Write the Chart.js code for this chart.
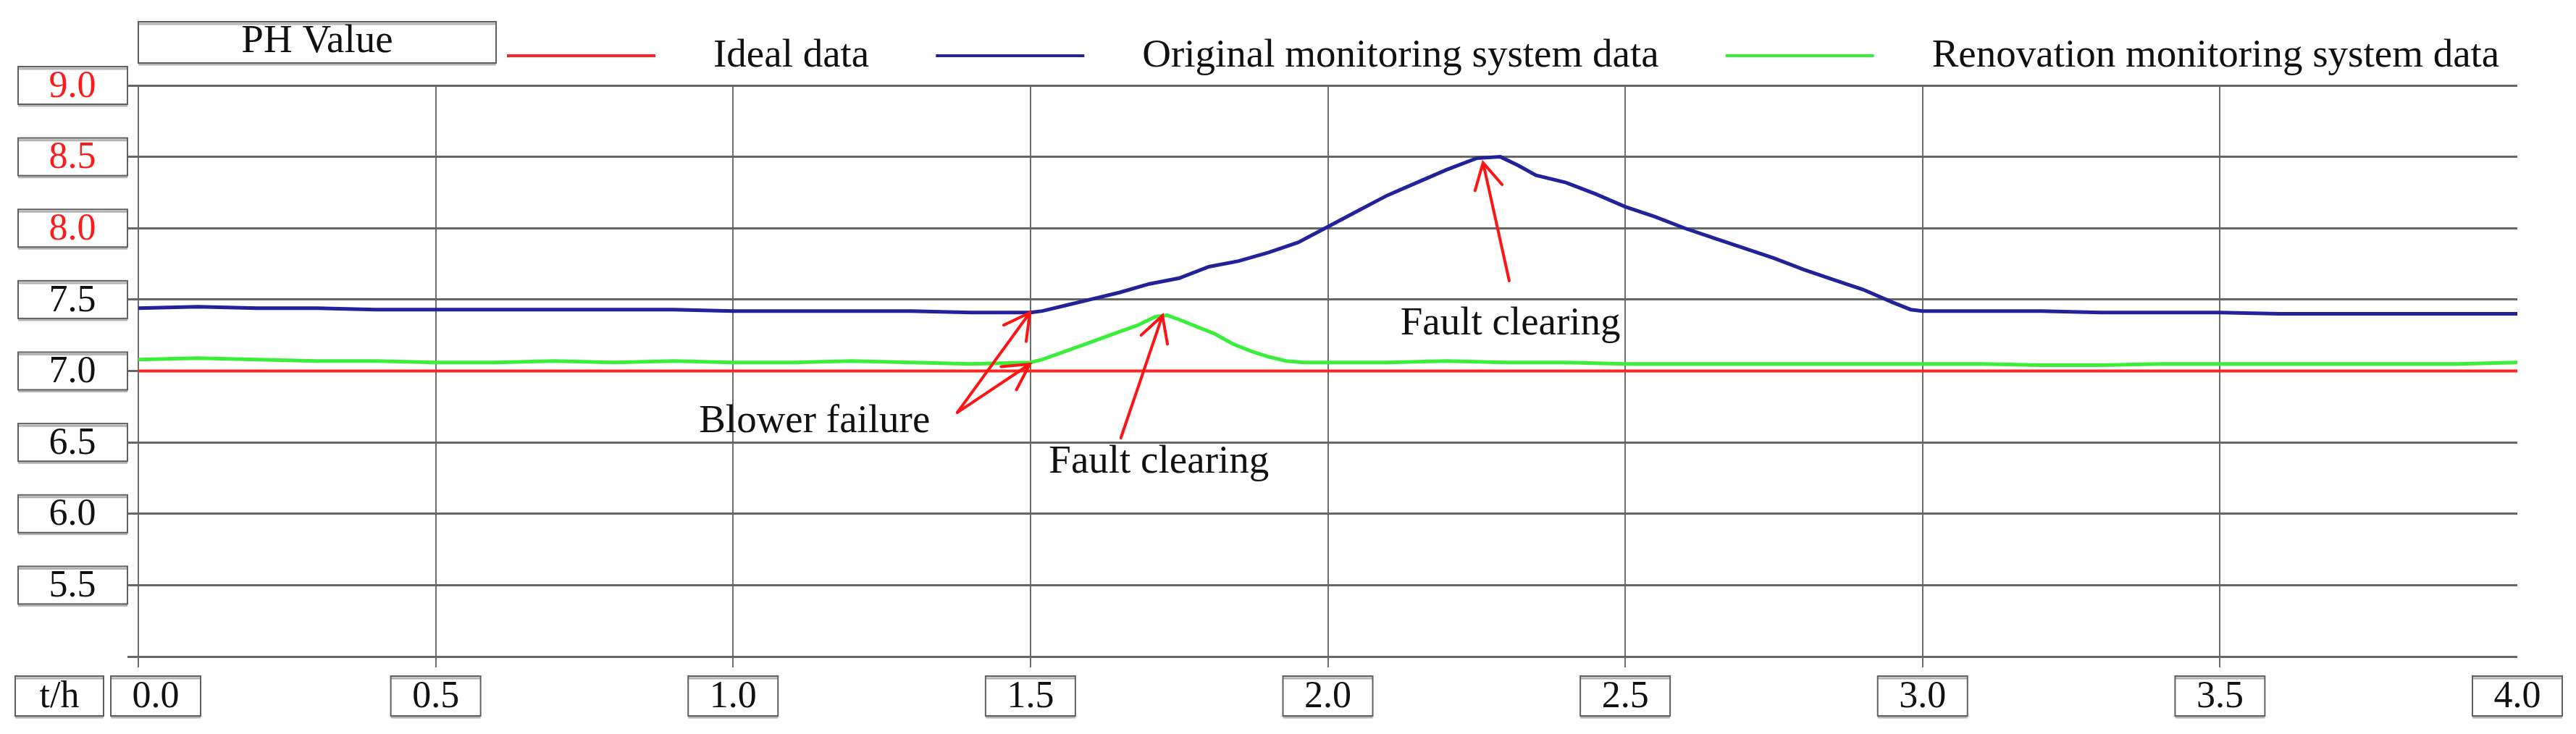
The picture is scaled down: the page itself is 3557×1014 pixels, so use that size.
<!DOCTYPE html>
<html>
<head>
<meta charset="utf-8">
<script src="https://cdn.jsdelivr.net/npm/chart.js@4"></script>
<style>
  html, body { margin: 0; padding: 0; background: #fff; }
  #wrap { width: 3557px; height: 1014px; }
</style>
</head>
<body>
<div id="wrap"><canvas id="phChart" width="3557" height="1014"></canvas></div>
<script>
// series names
const seriesNames = ["Ideal data", "Original monitoring system data", "Renovation monitoring system data"];

// ideal pH
const idealTimes = [0, 4];
const idealValues = [7.0, 7.0];

// original monitoring system (blue)
const originalTimes = [0, 0.1, 0.2, 0.3, 0.4, 0.5, 0.6, 0.7, 0.8, 0.9, 1.0, 1.1, 1.2, 1.3, 1.4, 1.5,
  1.52, 1.56, 1.6, 1.65, 1.7, 1.75, 1.8, 1.85, 1.9, 1.95, 2.0, 2.05, 2.1, 2.15, 2.2, 2.25, 2.29,
  2.32, 2.35, 2.4, 2.45, 2.5, 2.55, 2.6, 2.65, 2.7, 2.75, 2.8, 2.85, 2.9, 2.95, 2.98,
  3.0, 3.1, 3.2, 3.3, 3.4, 3.5, 3.6, 3.7, 3.8, 3.9, 4.0];
const originalValues = [7.44, 7.45, 7.44, 7.44, 7.43, 7.43, 7.43, 7.43, 7.43, 7.43, 7.42, 7.42, 7.42, 7.42, 7.41, 7.41,
  7.42, 7.46, 7.50, 7.55, 7.61, 7.65, 7.73, 7.77, 7.83, 7.90, 8.01, 8.12, 8.23, 8.32, 8.41, 8.49, 8.50,
  8.44, 8.37, 8.32, 8.24, 8.15, 8.08, 8.00, 7.93, 7.86, 7.79, 7.71, 7.64, 7.57, 7.48, 7.43,
  7.42, 7.42, 7.42, 7.41, 7.41, 7.41, 7.40, 7.40, 7.40, 7.40, 7.40];

// renovation monitoring system (green)
const renovationTimes = [0, 0.1, 0.2, 0.3, 0.4, 0.5, 0.6, 0.7, 0.8, 0.9, 1.0, 1.1, 1.2, 1.3, 1.4, 1.5,
  1.52, 1.56, 1.6, 1.64, 1.68, 1.71, 1.73, 1.75, 1.78, 1.81, 1.84, 1.87, 1.9, 1.93, 1.96,
  2.0, 2.1, 2.2, 2.3, 2.4, 2.5, 2.6, 2.7, 2.8, 2.9, 3.0, 3.1, 3.2, 3.3, 3.4, 3.5, 3.6, 3.7, 3.8, 3.9, 4.0];
const renovationValues = [7.08, 7.09, 7.08, 7.07, 7.07, 7.06, 7.06, 7.07, 7.06, 7.07, 7.06, 7.06, 7.07, 7.06, 7.05, 7.06,
  7.08, 7.14, 7.20, 7.26, 7.32, 7.38, 7.39, 7.36, 7.31, 7.26, 7.19, 7.14, 7.10, 7.07, 7.06,
  7.06, 7.06, 7.07, 7.06, 7.06, 7.05, 7.05, 7.05, 7.05, 7.05, 7.05, 7.05, 7.04, 7.04, 7.05, 7.05, 7.05, 7.05, 7.05, 7.05, 7.06];

// tick labels
const xTickLabels = ["0.0", "0.5", "1.0", "1.5", "2.0", "2.5", "3.0", "3.5", "4.0"];
const yTickLabels = ["9.0", "8.5", "8.0", "7.5", "7.0", "6.5", "6.0", "5.5"];
const redTickLabels = ["9.0", "8.5", "8.0"];

// annotations (data coordinates)
const notes = [
  { text: "Blower failure", x: 1.137, y: 6.572 },
  { text: "Fault clearing", x: 1.716, y: 6.288 },
  { text: "Fault clearing", x: 2.307, y: 7.256 }
];
const arrows = [
  { from: [1.377, 6.709], to: [1.499, 7.408] },
  { from: [1.377, 6.709], to: [1.499, 7.048] },
  { from: [1.652, 6.531], to: [1.722, 7.388] },
  { from: [2.305, 7.631], to: [2.261, 8.458] }
];

const colors = ["#ff2424", "#22229a", "#3cee3c"];
const serif = '"Liberation Serif", "Times New Roman", serif';

function pts(ts, vs) {
  return ts.map((t, i) => ({ x: t, y: vs[i] }));
}

function box(ctx, x, y, w, h) {
  ctx.fillStyle = "#fff";
  ctx.fillRect(x, y, w, h);
  ctx.strokeStyle = "#b4b4b4";
  ctx.lineWidth = 3;
  ctx.beginPath();
  ctx.moveTo(x, y + h + 2); ctx.lineTo(x + w, y + h + 2);
  ctx.moveTo(x, y + 3); ctx.lineTo(x + w, y + 3);
  ctx.stroke();
  ctx.strokeStyle = "#606060";
  ctx.lineWidth = 2;
  ctx.strokeRect(x, y, w, h);
}

const decorPlugin = {
  id: "decor",
  afterDraw(chart) {
    const ctx = chart.ctx;
    const xs = chart.scales.x, ys = chart.scales.y;
    const area = chart.chartArea;
    ctx.save();
    ctx.textAlign = "center";
    ctx.textBaseline = "middle";

    // y tick boxes
    ctx.font = "52px " + serif;
    yTickLabels.forEach(lbl => {
      const py = ys.getPixelForValue(parseFloat(lbl));
      box(ctx, 25, py - 26, 151, 52);
      ctx.fillStyle = redTickLabels.includes(lbl) ? "#ff1a1a" : "#111";
      ctx.fillText(lbl, 100, py + 2);
    });

    // x tick boxes
    const boxTop = 934, boxH = 55, boxW = 124;
    box(ctx, 21, boxTop, 122, boxH);
    ctx.fillStyle = "#111";
    ctx.fillText("t/h", 82, boxTop + boxH / 2 + 2);
    xTickLabels.forEach(lbl => {
      const px = xs.getPixelForValue(parseFloat(lbl));
      const left = Math.max(px - boxW / 2, 153);
      box(ctx, left, boxTop, boxW, boxH);
      ctx.fillStyle = "#111";
      ctx.fillText(lbl, left + boxW / 2, boxTop + boxH / 2 + 2);
    });

    // legend
    box(ctx, area.left, 30, 494, 57);
    ctx.font = "55px " + serif;
    ctx.fillStyle = "#111";
    ctx.fillText("PH Value", area.left + 247, 58);
    ctx.textAlign = "left";
    let lx = 700;
    chart.data.datasets.forEach(ds => {
      ctx.strokeStyle = ds.borderColor;
      ctx.lineWidth = 4;
      ctx.beginPath();
      ctx.moveTo(lx, 77); ctx.lineTo(lx + 205, 77);
      ctx.stroke();
      lx += 205 + 80;
      ctx.fillStyle = "#111";
      ctx.fillText(ds.label, lx, 78);
      lx += ctx.measureText(ds.label).width + 92;
    });

    // annotations
    ctx.font = "55px " + serif;
    ctx.textAlign = "center";
    ctx.textBaseline = "alphabetic";
    notes.forEach(n => {
      ctx.fillStyle = "#111";
      ctx.fillText(n.text, xs.getPixelForValue(n.x), ys.getPixelForValue(n.y));
    });
    ctx.strokeStyle = "#ff1414";
    ctx.lineWidth = 4;
    ctx.lineCap = "round";
    arrows.forEach(a => {
      const x1 = xs.getPixelForValue(a.from[0]), y1 = ys.getPixelForValue(a.from[1]);
      const x2 = xs.getPixelForValue(a.to[0]), y2 = ys.getPixelForValue(a.to[1]);
      const ang = Math.atan2(y2 - y1, x2 - x1);
      const len = 40, spread = 0.5;
      ctx.beginPath();
      ctx.moveTo(x1, y1); ctx.lineTo(x2, y2);
      ctx.moveTo(x2 - len * Math.cos(ang - spread), y2 - len * Math.sin(ang - spread));
      ctx.lineTo(x2, y2);
      ctx.lineTo(x2 - len * Math.cos(ang + spread), y2 - len * Math.sin(ang + spread));
      ctx.stroke();
    });
    ctx.restore();
  }
};

new Chart(document.getElementById("phChart"), {
  type: "line",
  data: {
    datasets: [
      { label: seriesNames[0], data: pts(idealTimes, idealValues), borderColor: colors[0], borderWidth: 4 },
      { label: seriesNames[1], data: pts(originalTimes, originalValues), borderColor: colors[1], borderWidth: 5 },
      { label: seriesNames[2], data: pts(renovationTimes, renovationValues), borderColor: colors[2], borderWidth: 5 }
    ]
  },
  options: {
    responsive: false,
    devicePixelRatio: 1,
    animation: false,
    elements: { point: { radius: 0 }, line: { tension: 0 } },
    layout: { padding: { top: 118, right: 81, left: 0, bottom: 0 } },
    plugins: { legend: { display: false }, tooltip: { enabled: false } },
    scales: {
      x: {
        type: "linear", min: 0, max: 4,
        ticks: { stepSize: 0.5, display: false },
        grid: {
          color: c => (c.tick && c.tick.value === 4 ? "rgba(0,0,0,0)" : "#6e6e6e"),
          lineWidth: 2, tickLength: 15
        },
        border: { display: false },
        afterFit: s => { s.height = 107; }
      },
      y: {
        min: 5, max: 9,
        ticks: { stepSize: 0.5, display: false },
        grid: { color: "#666", lineWidth: 3, tickLength: 15 },
        border: { display: false },
        afterFit: s => { s.width = 191; }
      }
    }
  },
  plugins: [decorPlugin]
});
</script>
</body>
</html>
